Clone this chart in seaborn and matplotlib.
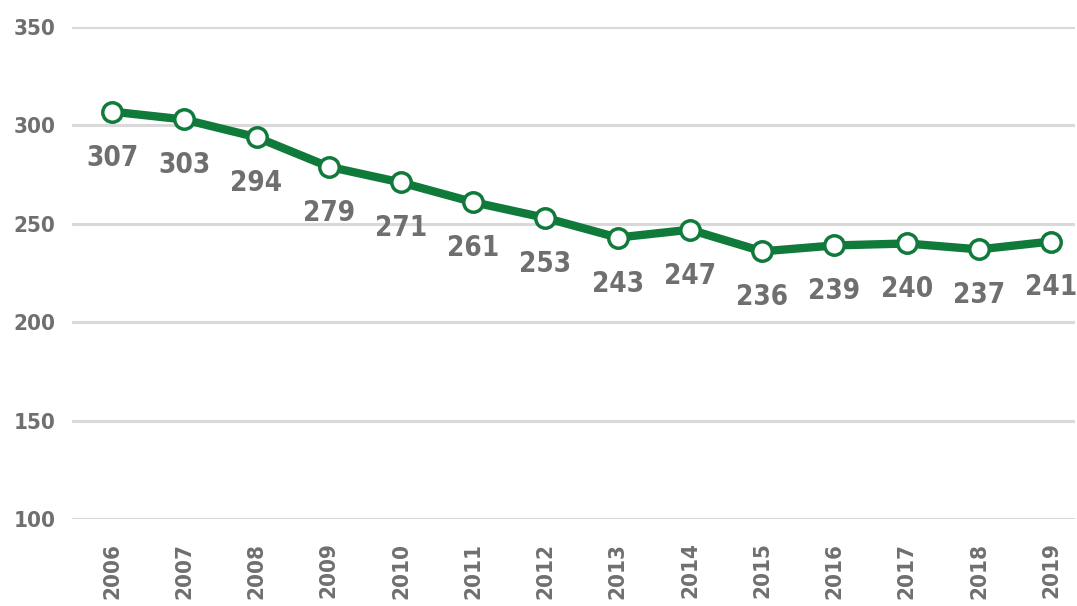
import pandas as pd
import matplotlib
matplotlib.use("Agg")
import matplotlib.pyplot as plt
from matplotlib import font_manager as fm
import seaborn as sns

# values
years = ["2006", "2007", "2008", "2009", "2010", "2011", "2012",
         "2013", "2014", "2015", "2016", "2017", "2018", "2019"]
values = [307, 303, 294, 279, 271, 261, 253, 243, 247, 236, 239, 240, 237, 241]

df = pd.DataFrame({"year": years, "value": values})
df["pos"] = range(len(df))

sns.set_style("white")

# look for a narrow bold face, the chart uses a condensed font
narrow = None
for f in fm.fontManager.ttflist:
    tag = (f.name + " " + f.fname).lower()
    if ("condensed" in tag or "narrow" in tag) and f.weight in ("bold", 700, "heavy"):
        narrow = f.fname
        break
if narrow is None:
    for f in fm.fontManager.ttflist:
        tag = (f.name + " " + f.fname).lower()
        if "condensed" in tag or "narrow" in tag:
            narrow = f.fname
            break

if narrow:
    def font(size):
        return fm.FontProperties(fname=narrow, size=size, weight="bold")
    lab_size, tick_size = 20, 16
else:
    def font(size):
        return fm.FontProperties(family=["Roboto", "DejaVu Sans"], size=size,
                                 weight="bold", stretch="condensed")
    lab_size, tick_size = 18, 14

grey = "#6f6f6f"
green = "#0f7a3a"

fig = plt.figure(figsize=(10.77, 6.06), dpi=100)
ax = fig.add_axes([72 / 1077, 1 - 519 / 606, 1003 / 1077, 492 / 606])

sns.lineplot(data=df, x="pos", y="value", ax=ax, color=green, linewidth=6,
             marker="o", markersize=14, markerfacecolor="white",
             markeredgecolor=green, markeredgewidth=2.5, zorder=3)

# data labels under each point
for p, v in zip(df["pos"], df["value"]):
    ax.annotate(str(v), (p, v), xytext=(0, -23), textcoords="offset points",
                ha="center", va="top", fontproperties=font(lab_size),
                color=grey, annotation_clip=False)

ax.set_ylim(100, 350)
ax.set_yticks([100, 150, 200, 250, 300, 350])
ax.set_xlim(-0.554, 13.33)
ax.set_xticks(df["pos"])
ax.set_xticklabels(years, rotation=90)
ax.grid(axis="y", color="#d9d9d9", linewidth=2.2)
ax.set_axisbelow(True)
for s in ax.spines.values():
    s.set_visible(False)
ax.tick_params(axis="y", length=0, pad=12, labelcolor=grey)
ax.tick_params(axis="x", length=0, pad=17, labelcolor=grey)
for lbl in ax.get_xticklabels() + ax.get_yticklabels():
    lbl.set_fontproperties(font(tick_size))
ax.set_xlabel("")
ax.set_ylabel("")

fig.savefig("out.png", dpi=100)
